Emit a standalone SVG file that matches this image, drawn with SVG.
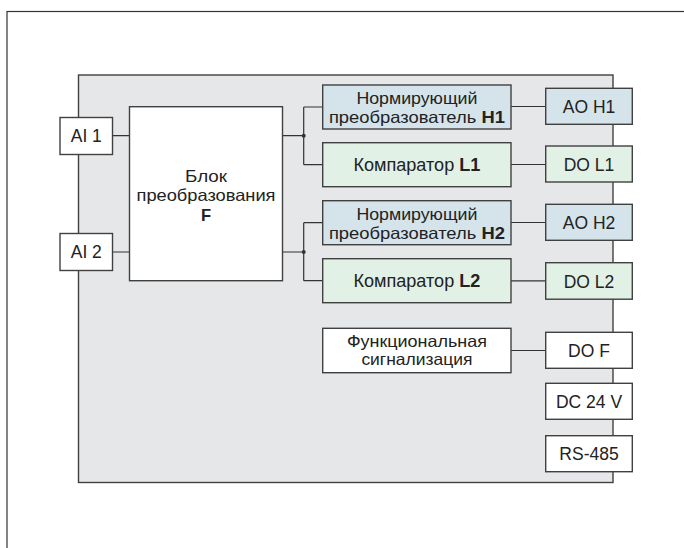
<svg xmlns="http://www.w3.org/2000/svg" width="684" height="548" viewBox="0 0 684 548">
<style>
.box{stroke:#404040;stroke-width:1.4}
.w{fill:#ffffff}
.g{fill:#e6e7e9}
.b{fill:#d5e3eb}
.gr{fill:#e2f1e6}
.t{font-family:"Liberation Sans",Arial,sans-serif;font-size:17.5px;fill:#222;text-anchor:middle}
.t2{font-size:16.5px}
.bd{font-weight:bold}
.ln{stroke:#333;stroke-width:1.2;fill:none}
</style>
<rect x="7" y="11.5" width="700" height="600" fill="#fff" stroke="#333" stroke-width="1.2"/>
<g id="device">
<rect class="box g" x="78.5" y="75" width="534.5" height="407.5"/>
</g>
<g id="connectors">
<path class="ln" d="M112.5 135.7H129.5M112.5 252H129.5"/>
<path class="ln" d="M282.3 135.7H303.7M303.7 107V164.7M303.7 107H322.7M303.7 164.7H322.7"/>
<path class="ln" d="M282.3 252H303.7M303.7 222.7V280.7M303.7 222.7H322.7M303.7 280.7H322.7"/>
<path class="ln" d="M511 106.5H545.7M511 164.5H545.7M511 222.5H545.7M511 280.8H545.7M511 350.5H545.7"/>
<circle cx="303.7" cy="135.7" r="2" fill="#333"/>
<circle cx="303.7" cy="252" r="2" fill="#333"/>
</g>
<g id="ai1"><rect class="box w" x="60" y="117.5" width="52.5" height="37"/><text class="t" x="86.3" y="142">AI 1</text></g>
<g id="ai2"><rect class="box w" x="60" y="233.5" width="52.5" height="37"/><text class="t" x="86.3" y="258">AI 2</text></g>
<g id="blockF"><rect class="box w" x="129.5" y="106.7" width="153" height="174"/>
<text class="t t2" x="206" y="181.5" textLength="42" lengthAdjust="spacingAndGlyphs">Блок</text>
<text class="t t2" x="206" y="201" textLength="139" lengthAdjust="spacingAndGlyphs">преобразования</text>
<text class="t t2 bd" x="206" y="220.5">F</text></g>
<g id="h1"><rect class="box b" x="322.7" y="85" width="188.3" height="44"/>
<text class="t t2" x="416.9" y="104.3" textLength="121" lengthAdjust="spacingAndGlyphs">Нормирующий</text>
<text class="t t2" x="416.9" y="122.8" textLength="176" lengthAdjust="spacingAndGlyphs">преобразователь <tspan class="bd">H1</tspan></text></g>
<g id="l1"><rect class="box gr" x="322.7" y="142.7" width="188.3" height="44"/>
<text class="t" x="416.9" y="170.5" textLength="127" lengthAdjust="spacingAndGlyphs">Компаратор <tspan class="bd">L1</tspan></text></g>
<g id="h2"><rect class="box b" x="322.7" y="200.7" width="188.3" height="44"/>
<text class="t t2" x="416.9" y="220" textLength="121" lengthAdjust="spacingAndGlyphs">Нормирующий</text>
<text class="t t2" x="416.9" y="238.5" textLength="176" lengthAdjust="spacingAndGlyphs">преобразователь <tspan class="bd">H2</tspan></text></g>
<g id="l2"><rect class="box gr" x="322.7" y="258.7" width="188.3" height="44"/>
<text class="t" x="416.9" y="286.5" textLength="127" lengthAdjust="spacingAndGlyphs">Компаратор <tspan class="bd">L2</tspan></text></g>
<g id="func"><rect class="box w" x="322.7" y="328.3" width="188.3" height="44.4"/>
<text class="t t2" x="416.9" y="346.5" textLength="140" lengthAdjust="spacingAndGlyphs">Функциональная</text>
<text class="t t2" x="416.9" y="365" textLength="111" lengthAdjust="spacingAndGlyphs">сигнализация</text></g>
<g id="aoh1"><rect class="box b" x="545.7" y="88.3" width="86.6" height="36"/><text class="t" x="589" y="113">AO H1</text></g>
<g id="dol1"><rect class="box gr" x="545.7" y="146" width="86.6" height="36"/><text class="t" x="589" y="170.7">DO L1</text></g>
<g id="aoh2"><rect class="box b" x="545.7" y="204.3" width="86.6" height="36"/><text class="t" x="589" y="229">AO H2</text></g>
<g id="dol2"><rect class="box gr" x="545.7" y="262.7" width="86.6" height="36.5"/><text class="t" x="589" y="287.5">DO L2</text></g>
<g id="dof"><rect class="box w" x="545.7" y="332.3" width="86.6" height="36"/><text class="t" x="589" y="357">DO F</text></g>
<g id="dc24"><rect class="box w" x="545.7" y="383.3" width="86.6" height="36"/><text class="t" x="589" y="408">DC 24 V</text></g>
<g id="rs485"><rect class="box w" x="545.7" y="435.7" width="86.6" height="36"/><text class="t" x="589" y="460.3">RS-485</text></g>
</svg>
